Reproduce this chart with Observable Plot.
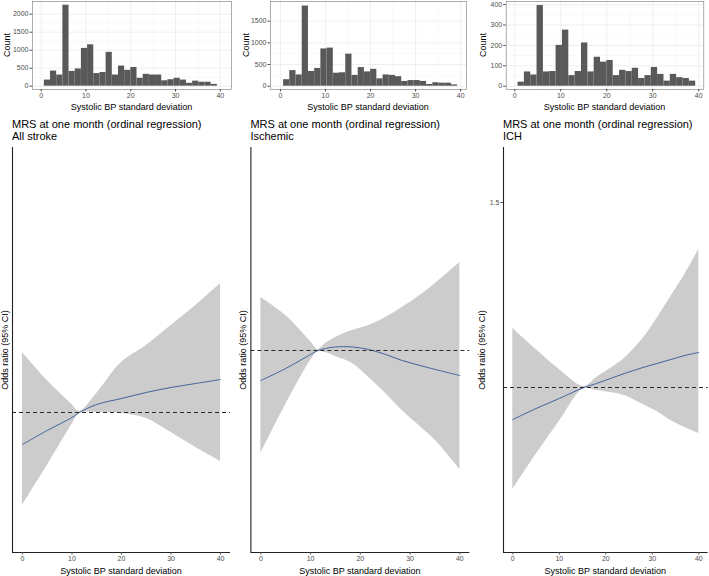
<!DOCTYPE html>
<html><head><meta charset="utf-8">
<script src="https://cdn.jsdelivr.net/npm/d3@7"></script>
<script src="https://cdn.jsdelivr.net/npm/@observablehq/plot@0.6"></script>
<style>
body{margin:0;background:#fff;font-family:"Liberation Sans",Arial,sans-serif;}
#root{position:relative;width:709px;height:576px;overflow:hidden;background:#fff;}
.p{position:absolute;}
.t{position:absolute;white-space:nowrap;color:#000;line-height:1;}
</style></head><body><div id="root"></div>
<script>
// ---- data ----
const panelTitle = "MRS at one month (ordinal regression)";
const groups = ["All stroke", "Ischemic", "ICH"];
const xLabel = "Systolic BP standard deviation";
const countLabel = "Count";
const orLabel = "Odds ratio (95% CI)";
const xTicks = [0, 10, 20, 30, 40];

// histogram bins (start, width) and counts
const binStart = 0.7;
const binWidth = 1.38;
const countsAll = [170,420,310,2250,410,480,1050,1150,350,380,940,310,560,440,520,220,330,310,310,150,180,220,170,80,140,110,110,50];
const countsIsch = [150,360,260,1850,340,410,860,880,300,310,740,250,430,330,390,170,260,250,220,110,130,130,110,40,80,70,70,30];
const countsICH = [20,70,55,395,70,72,200,275,52,72,212,70,142,118,126,52,78,72,88,38,52,92,58,25,58,42,38,25];
const yTicksAll = [0,500,1000,1500,2000];
const yTicksIsch = [0,500,1000,1500];
const yTicksICH = [0,100,200,300,400];

// spline odds ratios
const sdAll = [0,5,10,11.5,15,20,25,30,35,40];
const orAll = [0.9135,0.9514,0.9865,1,1.0216,1.0378,1.0541,1.0676,1.0784,1.0892];
const hiAll = [1.1622,1.0865,1.0216,1.0027,1.0514,1.1351,1.1811,1.2351,1.2892,1.3486];
const loAll = [0.7486,0.8568,0.9676,0.9973,1.0,0.9973,0.9838,0.9459,0.9054,0.8676];

const sdIsch = [0,5,10,11.5,13,15,18.4,21.7,25.1,28.4,32,35.1,40];
const orIsch = [0.9189,0.9514,0.9892,1,1.0054,1.0095,1.0095,1.0027,0.9892,0.9730,0.9595,0.9486,0.9324];
const hiIsch = [1.1432,1.0946,1.0243,1.0027,1.0189,1.0351,1.0541,1.0676,1.0892,1.1162,1.1486,1.1811,1.2378];
const loIsch = [0.7216,0.8541,0.9730,0.9973,0.9946,0.9838,0.9649,0.9270,0.8838,0.8378,0.7946,0.7568,0.6784];

const sdICH = [0,5,10,15.3,18,21,24,28,31,34,37,40];
const orICH = [0.9135,0.9432,0.9703,1,1.0108,1.0243,1.0378,1.0541,1.0649,1.0757,1.0865,1.0946];
const hiICH = [1.1595,1.1027,1.0486,1.0027,1.0270,1.0514,1.0784,1.1324,1.1865,1.2459,1.3054,1.3730];
const loICH = [0.7243,0.8189,0.9081,0.9973,0.9919,0.9865,0.9784,0.9541,0.9351,0.9108,0.8919,0.8757];
const yTicksOR_ICH = [1.5];

// ---- drawing ----
const FONT = "'Liberation Sans', Arial, Helvetica, sans-serif";
const root = document.getElementById("root");
const fmt = d => String(d);

function place(el, left, top) {
  el.classList.add("p");
  el.style.left = left + "px";
  el.style.top = top + "px";
  root.appendChild(el);
}
function text(str, x, y, size, opts = {}) {
  const d = document.createElement("div");
  d.className = "t";
  d.textContent = str;
  d.style.fontSize = size + "px";
  d.style.left = x + "px";
  d.style.top = y + "px";
  const rot = opts.rotate ? " rotate(-90deg)" : "";
  d.style.transform = (opts.center ? "translate(-50%,-50%)" : "") + rot;
  if (opts.color) d.style.color = opts.color;
  root.appendChild(d);
  return d;
}
function mids(a) { const r = []; for (let i = 0; i < a.length - 1; i++) r.push((a[i] + a[i+1]) / 2); return r; }

function histogram(counts, yTicks, cfg) {
  const data = counts.map((c, i) => ({x1: binStart + i*binWidth, x2: binStart + (i+1)*binWidth, n: c}));
  const minorY = mids(yTicks);
  const p = Plot.plot({
    width: cfg.width, height: 112,
    marginLeft: cfg.ml, marginRight: cfg.mr, marginTop: 1, marginBottom: 23,
    x: {domain: cfg.xdom},
    y: {domain: cfg.ydom},
    style: {fontFamily: FONT, background: "transparent", overflow: "visible"},
    marks: [
      Plot.gridX(mids(xTicks), {stroke: "#f3f3f3", strokeWidth: 0.5, strokeOpacity: 1}),
      Plot.gridY(minorY, {stroke: "#f3f3f3", strokeWidth: 0.5, strokeOpacity: 1}),
      Plot.gridX(xTicks, {stroke: "#e8e8e8", strokeWidth: 0.7, strokeOpacity: 1}),
      Plot.gridY(yTicks, {stroke: "#e8e8e8", strokeWidth: 0.7, strokeOpacity: 1}),
      Plot.rectY(data, {x1: "x1", x2: "x2", y: "n", fill: "#595959"}),
      Plot.frame({stroke: "#777", strokeWidth: 0.6}),
      Plot.axisX(xTicks, {tickSize: 2.5, tickPadding: 1.5, fontSize: 7, color: "#4d4d4d", label: null, tickFormat: fmt}),
      Plot.axisY(yTicks, {tickSize: 2.5, tickPadding: 1.5, fontSize: 7, color: "#4d4d4d", label: null, tickFormat: fmt})
    ]
  });
  place(p, cfg.left, 0);
  const pl = cfg.left + cfg.ml, pr = cfg.left + cfg.width - cfg.mr;
  text(xLabel, (pl + pr) / 2, 106.5, 9, {center: true});
  text(countLabel, cfg.countX, 45, 9, {center: true, rotate: true});
}

function orPanel(sd, or, lo, hi, cfg) {
  const data = sd.map((x, i) => ({x, or: or[i], lo: lo[i], hi: hi[i]}));
  const marks = [
    Plot.areaY(data, {x: "x", y1: "lo", y2: "hi", fill: "#cccccc", curve: "catmull-rom"}),
    Plot.line(data, {x: "x", y: "or", stroke: "#40649a", strokeWidth: 1, curve: "catmull-rom"}),
    Plot.ruleY([1], {stroke: "#2a2a2a", strokeWidth: 1, strokeDasharray: "4,3"}),
    Plot.ruleX([-2], {stroke: "#222", strokeWidth: 1.1}),
    Plot.ruleY([cfg.ydom[0]], {stroke: "#222", strokeWidth: 1.1}),
    Plot.axisX(xTicks, {tickSize: 2.5, tickPadding: 1.5, fontSize: 7, color: "#4d4d4d", label: null, tickFormat: fmt})
  ];
  if (cfg.yTicks) marks.push(Plot.axisY(cfg.yTicks, {tickSize: 2.5, tickPadding: 1.5, fontSize: 7, color: "#4d4d4d", label: null, tickFormat: fmt}));
  const top = 140, height = 436;
  const p = Plot.plot({
    width: cfg.width, height,
    marginLeft: cfg.ml, marginRight: cfg.mr, marginTop: 7, marginBottom: 24,
    x: {domain: [-2, 42]},
    y: {domain: cfg.ydom, axis: cfg.yTicks ? undefined : null},
    style: {fontFamily: FONT, background: "transparent", overflow: "visible"},
    marks
  });
  place(p, cfg.left, top);
  const pl = cfg.left + cfg.ml, pr = cfg.left + cfg.width - cfg.mr;
  const t = text(panelTitle + "\n" + cfg.group, pl, 118, 11);
  t.style.whiteSpace = "pre";
  t.style.lineHeight = "12px";
  text(xLabel, (pl + pr) / 2, 570.5, 9, {center: true});
  text(orLabel, cfg.labX, 349.5, 9, {center: true, rotate: true});
}

histogram(countsAll, yTicksAll, {left: 0, width: 240, ml: 32, mr: 9, xdom: [-1.94, 42.5], ydom: [-92, 2353], countX: 7});
histogram(countsIsch, yTicksIsch, {left: 235, width: 240, ml: 35, mr: 9, xdom: [-2.2, 41.3], ydom: [-76, 1955], countX: 246});
histogram(countsICH, yTicksICH, {left: 470, width: 239, ml: 35.7, mr: 5.7, xdom: [-1.87, 41.1], ydom: [-16, 415], countX: 483});

orPanel(sdAll, orAll, loAll, hiAll, {left: 0, width: 236, ml: 12, mr: 6, ydom: [0.6216, 1.7162], group: groups[0], labX: 5});
orPanel(sdIsch, orIsch, loIsch, hiIsch, {left: 240, width: 236, ml: 10.4, mr: 6.7, ydom: [0.4541, 1.5486], group: groups[1], labX: 243});
orPanel(sdICH, orICH, loICH, hiICH, {left: 480, width: 229, ml: 23, mr: 1.4, ydom: [0.5541, 1.6486], group: groups[2], labX: 482, yTicks: yTicksOR_ICH});
</script></body></html>
